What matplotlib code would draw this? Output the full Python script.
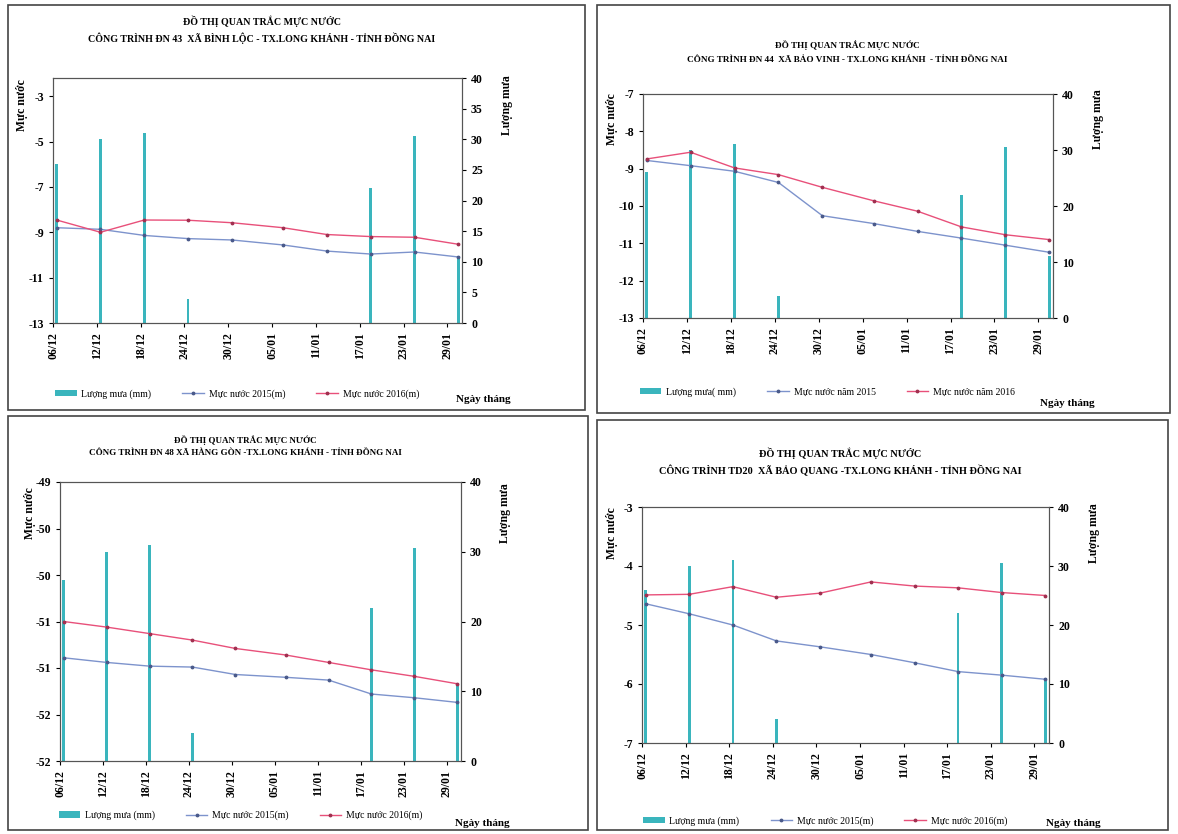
import matplotlib
matplotlib.use("Agg")
import matplotlib.pyplot as plt
import matplotlib.dates as mdates
from matplotlib.patches import Rectangle
import numpy as np

plt.rcParams['font.family'] = ['Liberation Serif', 'DejaVu Serif']

# ngay quan trac va ngay co mua
measure_dates = ["2015-12-06", "2015-12-12", "2015-12-18", "2015-12-24", "2015-12-30",
                 "2016-01-06", "2016-01-12", "2016-01-18", "2016-01-24", "2016-01-30"]
rain_dates = ["2015-12-06", "2015-12-12", "2015-12-18", "2015-12-24",
              "2016-01-18", "2016-01-24", "2016-01-30"]
rain_mm = [26, 30, 31, 4, 22, 30.5, 11]

tick_dates = ["2015-12-06", "2015-12-12", "2015-12-18", "2015-12-24", "2015-12-30",
              "2016-01-05", "2016-01-11", "2016-01-17", "2016-01-23", "2016-01-29"]
tick_labels = ["06/12", "12/12", "18/12", "24/12", "30/12",
               "05/01", "11/01", "17/01", "23/01", "29/01"]

# DN 43
dn43_2015 = [-8.80, -8.87, -9.14, -9.28, -9.34, -9.56, -9.83, -9.96, -9.87, -10.09]
dn43_2016 = [-8.46, -9.00, -8.46, -8.47, -8.58, -8.80, -9.10, -9.19, -9.22, -9.53]
# DN 44
dn44_2015 = [-8.78, -8.92, -9.07, -9.37, -10.26, -10.47, -10.68, -10.86, -11.05, -11.24]
dn44_2016 = [-8.74, -8.56, -8.98, -9.16, -9.50, -9.86, -10.14, -10.56, -10.77, -10.90]
# DN 48
dn48_2015 = [-50.89, -50.94, -50.98, -50.99, -51.07, -51.10, -51.13, -51.28, -51.32, -51.37]
dn48_2016 = [-50.50, -50.56, -50.63, -50.70, -50.79, -50.86, -50.94, -51.02, -51.09, -51.17]
dn48_ticklabels = ["-52", "-52", "-51", "-51", "-50", "-50", "-49"]
# TD20
td20_2015 = [-4.64, -4.81, -5.00, -5.27, -5.37, -5.50, -5.64, -5.79, -5.85, -5.92]
td20_2016 = [-4.49, -4.48, -4.35, -4.53, -4.46, -4.27, -4.34, -4.37, -4.45, -4.50]

BAR_COLOR = '#3ab5bd'
C2015 = '#7d93cc'
C2016 = '#e8507a'

x_meas = mdates.date2num(np.array(measure_dates, dtype='datetime64[D]')) + 0.5
x_rain = mdates.date2num(np.array(rain_dates, dtype='datetime64[D]')) + 0.5
x_ticks = mdates.date2num(np.array(tick_dates, dtype='datetime64[D]'))
x_lo = mdates.date2num(np.datetime64("2015-12-06"))
x_hi = mdates.date2num(np.datetime64("2016-01-31"))

fig = plt.figure(figsize=(11.78, 8.34), dpi=100)
W, H = 1178.0, 834.0


def px_axes(l, t, r, b):
    return fig.add_axes([l / W, 1 - b / H, (r - l) / W, (b - t) / H])


def draw_panel(rect, title2, y15, y16, ylim, yticks, yticklabels, rain_step, labels,
               leg_y, title_xy, nt_xy, title_size=7, title_ls=1.6):
    ax = px_axes(*rect)
    ax2 = ax.twinx()
    ax.set_zorder(ax2.get_zorder() + 1)
    ax.patch.set_visible(False)

    ax2.bar(x_rain, rain_mm, width=0.35, color=BAR_COLOR, linewidth=0,
            label=labels[0])
    ax2.set_ylim(0, 40)
    ax2.set_yticks(np.arange(0, 41, rain_step))

    ax.plot(x_meas, y15, color=C2015, lw=1.0, marker='.', ms=3.5,
            mfc='#4a5a8a', mec='#4a5a8a', label=labels[1])
    ax.plot(x_meas, y16, color=C2016, lw=1.0, marker='.', ms=3.5,
            mfc='#a03050', mec='#a03050', label=labels[2])
    ax.set_ylim(*ylim)
    ax.set_yticks(yticks)
    ax.set_yticklabels(yticklabels)
    ax.set_xlim(x_lo, x_hi)
    ax.set_xticks(x_ticks)
    ax.set_xticklabels(tick_labels, rotation=90)

    for a in (ax, ax2):
        a.tick_params(labelsize=8.5, length=3, width=0.8)
        for lab in a.get_yticklabels() + a.get_xticklabels():
            lab.set_fontweight('bold')
        for s in a.spines.values():
            s.set_color('#555555')
            s.set_linewidth(0.8)
    ax.set_ylabel("Mực nước", fontsize=8.5, fontweight='bold')
    ax2.set_ylabel("Lượng mưa", fontsize=8.5, fontweight='bold')
    ax.yaxis.set_label_coords(-0.06, 0.89)
    ax2.yaxis.set_label_coords(1.095, 0.89)

    tx, ty = title_xy
    fig.text(tx / W, 1 - ty / H, "ĐỒ THỊ QUAN TRẮC MỰC NƯỚC\n" + title2,
             ha='center', va='center', fontsize=title_size, fontweight='bold',
             linespacing=title_ls)
    fig.text(nt_xy[0] / W, 1 - nt_xy[1] / H, "Ngày tháng", ha='center',
             va='center', fontsize=8, fontweight='bold')

    h1, l1 = ax2.get_legend_handles_labels()
    h2, l2 = ax.get_legend_handles_labels()
    ax.legend(h1 + h2, l1 + l2, ncol=3, frameon=False, fontsize=7,
              loc='center', bbox_to_anchor=(0.45, leg_y), columnspacing=3.2,
              handlelength=2.2, handleheight=0.6, handletextpad=0.5)
    return ax


labels_a = ["Lượng mưa (mm)", "Mực nước 2015(m)", "Mực nước 2016(m)"]
labels_b = ["Lượng mưa( mm)", "Mực nước năm 2015", "Mực nước năm 2016"]

draw_panel((53, 78, 462, 323), "CÔNG TRÌNH ĐN 43  XÃ BÌNH LỘC - TX.LONG KHÁNH - TỈNH ĐỒNG NAI",
           dn43_2015, dn43_2016, (-13, -2.2), np.arange(-13, -2, 2),
           [str(v) for v in np.arange(-13, -2, 2)], 5, labels_a, -0.29,
           (262, 30), (483, 400), title_size=7.2)

draw_panel((643, 94, 1053, 318), "CÔNG TRÌNH ĐN 44  XÃ BẢO VINH - TX.LONG KHÁNH  - TỈNH ĐỒNG NAI",
           dn44_2015, dn44_2016, (-13, -7), np.arange(-13, -6.5, 1),
           [str(v) for v in np.arange(-13, -6, 1)], 10, labels_b, -0.33,
           (847, 52), (1067, 404), title_size=6.6, title_ls=1.9)

draw_panel((60, 482, 461, 761), "CÔNG TRÌNH ĐN 48 XÃ HÀNG GÒN -TX.LONG KHÁNH - TỈNH ĐỒNG NAI",
           dn48_2015, dn48_2016, (-52, -49), np.arange(-52, -48.9, 0.5),
           dn48_ticklabels, 10, labels_a, -0.195,
           (245, 446), (482, 824), title_size=6.5)

draw_panel((642, 507, 1049, 743), "CÔNG TRÌNH TD20  XÃ BẢO QUANG -TX.LONG KHÁNH - TỈNH ĐỒNG NAI",
           td20_2015, td20_2016, (-7, -3), np.arange(-7, -2.5, 1),
           [str(v) for v in np.arange(-7, -2, 1)], 10, labels_a, -0.33,
           (840, 462), (1073, 824), title_size=7.4)

# khung quanh tung do thi
for (l, t, r, b) in [(8, 5, 585, 410), (597, 5, 1170, 413),
                     (8, 416, 588, 830), (597, 420, 1168, 830)]:
    fig.patches.append(Rectangle((l / W, 1 - b / H), (r - l) / W, (b - t) / H,
                                 transform=fig.transFigure, fill=False,
                                 edgecolor='#444444', linewidth=1.2))

fig.savefig("out.png", dpi=100)
